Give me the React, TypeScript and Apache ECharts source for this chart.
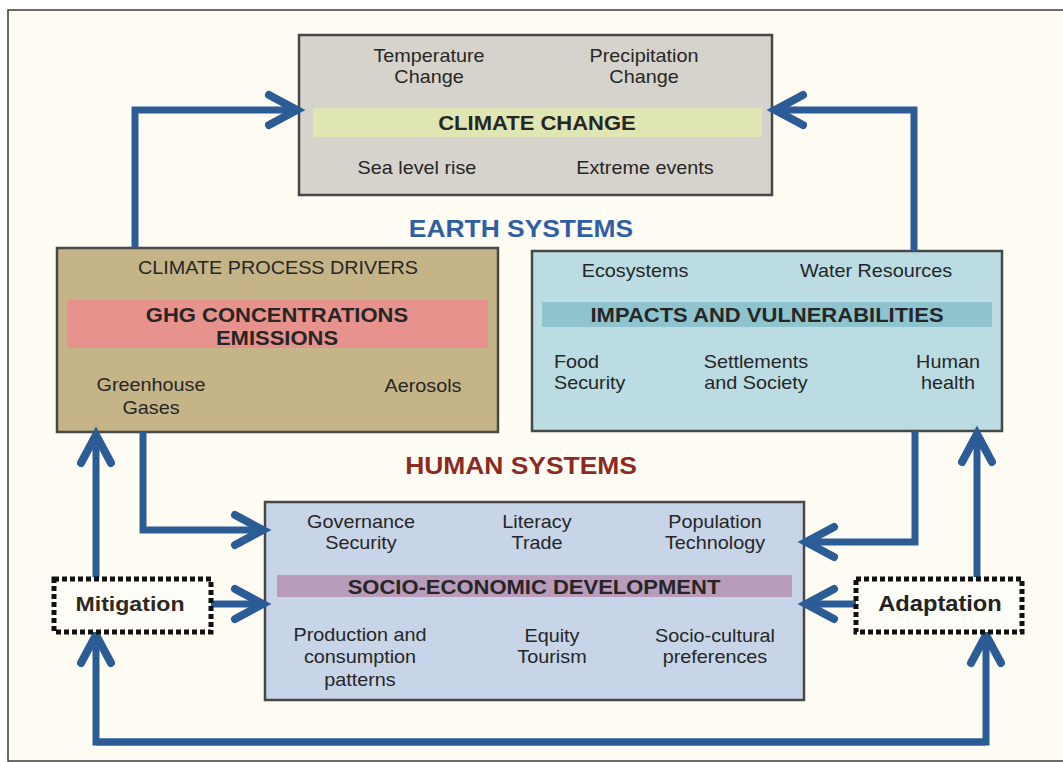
import React, { useEffect, useRef } from "react";
import * as echarts from "echarts";

// ---- Diagram content (texts) ----
const climateTitle = "CLIMATE CHANGE";
const climateItems = ["Temperature\nChange", "Precipitation\nChange", "Sea level rise", "Extreme events"];
const systemLabels = ["EARTH SYSTEMS", "HUMAN SYSTEMS"];
const driversHeader = "CLIMATE PROCESS DRIVERS";
const driversTitle = "GHG CONCENTRATIONS\nEMISSIONS";
const driversItems = ["Greenhouse\nGases", "Aerosols"];
const impactsTitle = "IMPACTS AND VULNERABILITIES";
const impactsItems = ["Ecosystems", "Water Resources", "Food\nSecurity", "Settlements\nand Society", "Human\nhealth"];
const socioTitle = "SOCIO-ECONOMIC DEVELOPMENT";
const socioItems = [
  "Governance\nSecurity",
  "Literacy\nTrade",
  "Population\nTechnology",
  "Production and\nconsumption\npatterns",
  "Equity\nTourism",
  "Socio-cultural\npreferences",
];
const responseLabels = ["Mitigation", "Adaptation"];

// ---- Styling ----
const FONT = "'Liberation Sans', Arial, sans-serif";
const ARROW = "#2b5c95";
const TEXT = "#262626";
const BORDER = "#474747";

type TxtOpt = { size?: number; bold?: boolean; color?: string; align?: string; lh?: number; sx?: number };
const txt = (x: number, y: number, s: string, o: TxtOpt = {}) => ({
  type: "text",
  x,
  y,
  scaleX: o.sx ?? 1.1,
  z: 20,
  style: {
    x: 0,
    y: 0,
    text: s,
    fontFamily: FONT,
    fontSize: o.size ?? 18,
    fontWeight: o.bold ? "bold" : "normal",
    fill: o.color ?? TEXT,
    align: o.align ?? "center",
    verticalAlign: "middle",
    lineHeight: o.lh ?? 22,
  },
});

const rect = (x: number, y: number, w: number, h: number, fill: string, stroke?: string, lw = 0, z = 5, dash?: number[]) => ({
  type: "rect",
  z,
  shape: { x, y, width: w, height: h },
  style: { fill, stroke: stroke ?? "none", lineWidth: lw, lineDash: dash },
});

// arrow: shaft polyline with chevron head at the last point
const arrowHead = (tx: number, ty: number, dx: number, dy: number) => {
  const L = 28;
  const W = 15;
  const nx = -dy;
  const ny = dx;
  return {
    type: "polyline",
    z: 15,
    shape: {
      points: [
        [tx - L * dx + W * nx, ty - L * dy + W * ny],
        [tx, ty],
        [tx - L * dx - W * nx, ty - L * dy - W * ny],
      ],
    },
    style: { stroke: ARROW, lineWidth: 8, fill: "none", lineCap: "round", lineJoin: "miter" },
  };
};
const shaft = (pts: number[][]) => ({
  type: "polyline",
  z: 14,
  shape: { points: pts },
  style: { stroke: ARROW, lineWidth: 7, fill: "none", lineCap: "butt", lineJoin: "miter" },
});
const arrow = (pts: number[][]) => {
  const n = pts.length;
  const [ax, ay] = pts[n - 2];
  const [bx, by] = pts[n - 1];
  const len = Math.hypot(bx - ax, by - ay);
  const dx = (bx - ax) / len;
  const dy = (by - ay) / len;
  const sp = pts.slice(0, n - 1).concat([[bx - 4 * dx, by - 4 * dy]]);
  return [shaft(sp), arrowHead(bx, by, dx, dy)];
};

export default function App() {
  const ref = useRef<HTMLDivElement>(null);
  useEffect(() => {
    if (!ref.current) return;
    const chart = echarts.init(ref.current, undefined, { renderer: "svg" });

    const elements: any[] = [];
    // outer frame
    elements.push(rect(8, 10, 1100, 751, "#fffcf4", "#3a3a3a", 1.5, 1));

    // climate change box
    elements.push(rect(299, 35, 473, 160, "#d6d3cc", BORDER, 2.5, 5));
    elements.push(rect(313, 108, 449, 29, "#dfe6b3", undefined, 0, 6));
    elements.push(txt(429, 66.5, climateItems[0], { lh: 21 }));
    elements.push(txt(644, 66.5, climateItems[1], { lh: 21 }));
    elements.push(txt(537, 123, climateTitle, { size: 20, bold: true }));
    elements.push(txt(417, 168, climateItems[2]));
    elements.push(txt(645, 168, climateItems[3]));

    // system labels
    elements.push(txt(521, 228, systemLabels[0], { size: 24, bold: true, color: "#2f5ea6" }));
    elements.push(txt(521, 465, systemLabels[1], { size: 24, bold: true, color: "#8b2a20" }));

    // climate process drivers box
    elements.push(rect(57, 248, 441, 184, "#c5b487", BORDER, 2.5, 5));
    elements.push(rect(67, 300, 421, 48, "#e8928e", undefined, 0, 6));
    elements.push(txt(278, 268, driversHeader));
    elements.push(txt(277, 326.5, driversTitle, { size: 20, bold: true, lh: 23 }));
    elements.push(txt(151, 396.5, driversItems[0], { lh: 23 }));
    elements.push(txt(423, 386, driversItems[1]));

    // impacts box
    elements.push(rect(532, 251, 470, 180, "#badce2", BORDER, 2.5, 5));
    elements.push(rect(542, 302, 450, 25, "#8fc3cd", undefined, 0, 6));
    elements.push(txt(635, 271, impactsItems[0]));
    elements.push(txt(876, 271, impactsItems[1]));
    elements.push(txt(767, 315, impactsTitle, { size: 20, bold: true }));
    elements.push(txt(554, 372.5, impactsItems[2], { align: "left", lh: 21 }));
    elements.push(txt(756, 372.5, impactsItems[3], { lh: 21 }));
    elements.push(txt(948, 372.5, impactsItems[4], { lh: 21 }));

    // socio-economic box
    elements.push(rect(265, 502, 539, 198, "#c8d4e8", BORDER, 2.5, 5));
    elements.push(rect(277, 575, 515, 22, "#b99bbc", undefined, 0, 6));
    elements.push(txt(361, 532.5, socioItems[0], { lh: 21 }));
    elements.push(txt(537, 532.5, socioItems[1], { lh: 21 }));
    elements.push(txt(715, 532.5, socioItems[2], { lh: 21 }));
    elements.push(txt(534, 587, socioTitle, { size: 20, bold: true }));
    elements.push(txt(360, 657, socioItems[3], { lh: 22.5 }));
    elements.push(txt(552, 646, socioItems[4], { lh: 21 }));
    elements.push(txt(715, 646, socioItems[5], { lh: 21 }));

    // mitigation / adaptation dashed boxes
    elements.push(rect(54, 579, 157, 53, "#fffdf7", "#111", 5, 16, [5, 3]));
    elements.push(rect(856, 579, 166, 53, "#fffdf7", "#111", 5, 16, [5, 3]));
    elements.push({ ...txt(130, 604, responseLabels[0], { size: 21, bold: true, color: "#2e2a22" }), z: 21 });
    elements.push({ ...txt(940, 604, responseLabels[1], { size: 21.5, bold: true, color: "#222" }), z: 21 });

    // arrows
    elements.push(...arrow([[135, 248], [135, 110], [297, 110]]));
    elements.push(...arrow([[914, 251], [914, 110], [775, 110]]));
    elements.push(...arrow([[143, 432], [143, 530], [263, 530]]));
    elements.push(...arrow([[96, 577], [96, 435]]));
    elements.push(...arrow([[211, 604], [263, 604]]));
    elements.push(...arrow([[915, 431], [915, 542], [806, 542]]));
    elements.push(...arrow([[977, 577], [977, 434]]));
    elements.push(...arrow([[856, 604], [806, 604]]));
    // bottom loop, heads at both ends
    elements.push(...arrow([[986, 742], [96, 742], [96, 635]]));
    elements.push(...arrow([[96, 742], [986, 742], [986, 635]]));

    chart.setOption({
      animation: false,
      graphic: { elements },
    });
    return () => chart.dispose();
  }, []);
  return (
    <div
      ref={ref}
      style={{ position: "fixed", left: 0, top: 0, width: 1063, height: 762, background: "#ffffff" }}
    />
  );
}
